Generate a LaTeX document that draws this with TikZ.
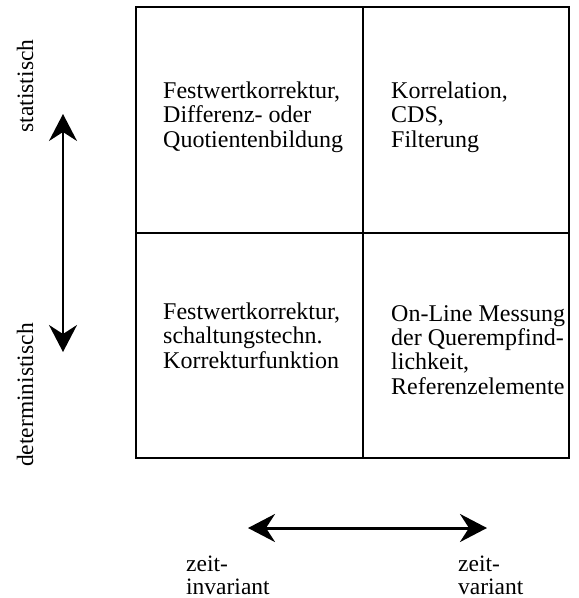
\documentclass[tikz,border=0pt]{standalone}
\usepackage{fontspec}
\setmainfont{Liberation Serif}
\usetikzlibrary{arrows.meta}
\begin{document}
\begin{tikzpicture}[x=1pt,y=-1pt,
  grid/.style={line width=2.6pt},
  % multi-line nodes: the base anchor sits on the last line
  celltext/.style={anchor=base west, align=left, inner sep=0pt,
    font=\fontsize{24}{24.3}\selectfont},
  axislabel/.style={inner sep=0pt, font=\fontsize{23.5}{23}\selectfont},
  twoway/.style={{Stealth[length=27pt,width=28pt,inset=9pt]}-{Stealth[length=27pt,width=28pt,inset=9pt]}}]
  \useasboundingbox (0,0) rectangle (579,598);

  % frame and dividers
  \draw[grid] (136,7) rectangle (569,458);
  \draw[grid] (363,7) -- (363,458);
  \draw[grid] (136,233) -- (569,233);

  % cell contents
  \node[celltext] (tl) at (163,147) {Festwertkorrektur,\\Differenz- oder\\Quotientenbildung};
  \node[celltext] (tr) at (391,147) {Korrelation,\\CDS,\\Filterung};
  \node[celltext] (bl) at (163,368) {Festwertkorrektur,\\schaltungstechn.\\Korrekturfunktion};
  \node[celltext] (br) at (391,394) {On-Line Messung\\der Querempfind-\\lichkeit,\\Referenzelemente};

  % vertical axis
  \node[axislabel, rotate=90] (stat) at (25,86) {statistisch};
  \node[axislabel, rotate=90] (det) at (25,395) {deterministisch};
  \coordinate (vtop) at (63,114);
  \coordinate (vbot) at (63,352);
  \draw[twoway, line width=2pt] (vtop) -- (vbot);

  % horizontal axis
  \coordinate (hl) at (248,528);
  \coordinate (hr) at (487,528);
  \draw[twoway, line width=3pt] (hl) -- (hr);
  \node[axislabel, anchor=base west, align=left] (inv) at (186,594) {zeit-\\invariant};
  \node[axislabel, anchor=base west, align=left] (var) at (458,594) {zeit-\\variant};
\end{tikzpicture}
\end{document}
